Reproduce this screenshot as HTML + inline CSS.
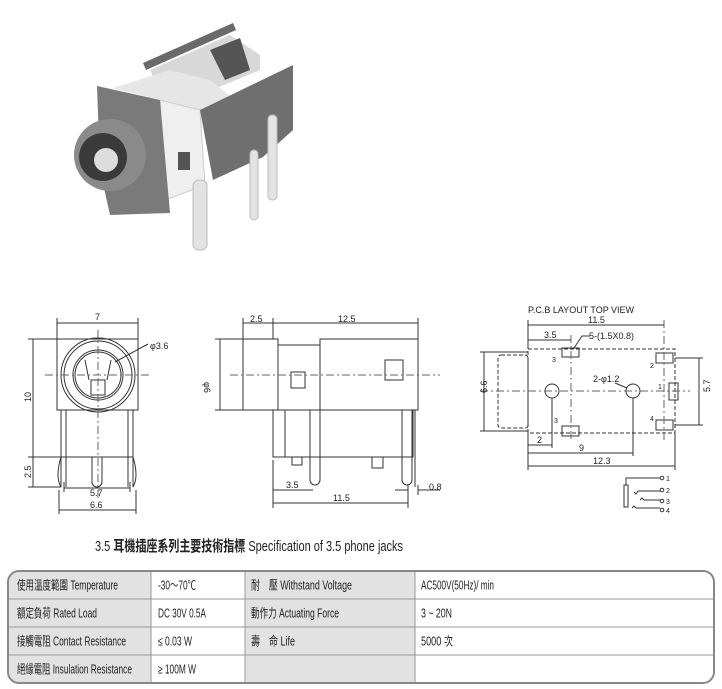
<!DOCTYPE html>
<html><head><meta charset="utf-8"><style>
body{margin:0;background:#fff;}
svg{display:block}
text{font-family:"Liberation Sans","Noto Sans CJK TC",sans-serif;fill:#222}
</style></head><body>
<svg width="722" height="689" viewBox="0 0 722 689" xmlns="http://www.w3.org/2000/svg">
<!-- Photo -->
<g>
<polygon points="143,63 233,23 236,30 146,70" fill="#6a6a6a"/>
<polygon points="150,70 230,35 260,55 260,70 200,95 160,90" fill="#d8d8d8"/>
<polygon points="210,50 240,38 250,70 225,80" fill="#555"/>
<polygon points="113,88 170,70 210,80 235,100 200,112 170,115 160,100" fill="#e6e6e6"/>
<polygon points="160,100 200,110 205,185 165,200" fill="#efefef" stroke="#ccc"/>
<polygon points="200,110 293,65 293,130 263,157 213,180" fill="#6f6f6f"/>
<polygon points="97,86 160,100 170,213 110,215 100,170" fill="#7a7a7a"/>
<circle cx="110" cy="155" r="36" fill="#8a8a8a"/>
<circle cx="103" cy="157" r="24" fill="#3a3a3a"/>
<circle cx="106" cy="160" r="12" fill="#ddd"/>
<rect x="178" y="152" width="12" height="18" fill="#555"/>
<rect x="193" y="180" width="14" height="70" rx="6" fill="#e3e3e3" stroke="#bbb"/>
<rect x="250" y="150" width="8" height="70" rx="4" fill="#e3e3e3" stroke="#bbb"/>
<rect x="268" y="115" width="9" height="85" rx="4" fill="#e3e3e3" stroke="#bbb"/>
</g>
<g stroke="#333" fill="none" stroke-width="1">
<!-- Front view -->
<rect x="57" y="339" width="81" height="71"/>
<rect x="61" y="410" width="72" height="47"/>
<circle cx="98" cy="375" r="37"/><circle cx="98" cy="375" r="34"/>
<circle cx="98" cy="375" r="25"/><circle cx="98" cy="375" r="23"/>
<rect x="91" y="380" width="14" height="15"/>
<path d="M85 360 L89 380 M111 360 L107 380"/>
<path d="M61 410 V487 M66 410 V487 M133 410 V487 M128 410 V487"/>
<path d="M61 457 q-6 20 0 30 M133 457 q6 20 0 30"/>
<path d="M92 457 V482 a5 5 0 0 0 10 0 V457"/>
<path d="M57 323 H138 M57 318 V339 M138 318 V339 M28 339 H57 M28 457 H61 M28 487 H61 M33 339 V487 M64 488 H130 M59 510 H136 M64 482 V492 M130 482 V492 M59 490 V514 M136 490 V514 M115 362 L148 344"/>
<path d="M98 330 V500 M45 375 H152" stroke-dasharray="8 3 2 3" stroke="#666"/>
<!-- Side view -->
<rect x="243" y="339" width="35" height="71"/>
<rect x="278" y="345" width="42" height="65"/>
<rect x="320" y="339" width="98" height="71"/>
<rect x="291" y="372" width="14" height="16"/>
<rect x="385" y="360" width="18" height="20"/>
<path d="M273 410 V457 H285 M285 410 V457 M285 457 H413 V410 M320 410 V457 M292 457 V465 H302 V457 M372 457 V468 H383 V457"/>
<path d="M310 410 V480 a5 5 0 0 0 10 0 V410"/>
<path d="M402 410 V480 a5 5 0 0 0 10 0 V410 M415 410 V487"/>
<path d="M243 323 H418 M243 318 V339 M273 318 V339 M418 318 V339 M215 339 H243 M215 410 H243 M220 339 V410 M273 490 H313 M273 503 H408 M273 460 V508 M408 485 V508 M418 485 V495 M395 490 H408 M418 490 H440"/>
<path d="M230 375 H440" stroke-dasharray="8 3 2 3" stroke="#666"/>
<!-- PCB -->
<rect x="528" y="349" width="147" height="84" stroke-dasharray="4 2"/>
<rect x="498" y="355" width="30" height="73" rx="3" stroke-dasharray="4 2"/>
<circle cx="552" cy="391" r="7"/><circle cx="633" cy="391" r="7"/>
<rect x="562" y="348" width="17" height="9"/><rect x="562" y="426" width="17" height="10"/>
<rect x="656" y="353" width="17" height="10"/><rect x="656" y="420" width="17" height="10"/>
<rect x="669" y="383" width="9" height="17"/>
<path d="M480 391 H690 M571 335 V440 M664 320 V440" stroke-dasharray="8 3 2 3" stroke="#666"/>
<path d="M528 325 H664 M528 320 V349 M528 340 H571 M480 352 H528 M480 431 H528 M484 352 V431 M675 358 H703 M675 425 H703 M699 358 V425 M528 445 H552 M552 398 V448 M528 453 H633 M633 398 V456 M528 466 H675 M528 433 V470 M675 433 V470 M574 348 L582 336 H590 M615 383 L627 388"/>
<!-- schematic -->
<rect x="624" y="485" width="4" height="22"/>
<path d="M626 485 V478 H660 M634 492 l2 2 l2 -3 H660 M640 500 l2 -2 l2 2 H660 M632 508 l2 -2 l2 2 H660"/>
<circle cx="662" cy="478" r="1.8"/><circle cx="662" cy="490" r="1.8"/><circle cx="662" cy="501" r="1.8"/><circle cx="662" cy="510" r="1.8"/>
</g>
<g font-size="9">
<text x="95" y="320">7</text><text x="150" y="349">φ3.6</text>
<text x="31" y="402" transform="rotate(-90 31 402)">10</text>
<text x="31" y="478" transform="rotate(-90 31 478)">2.5</text>
<text x="90" y="496">5.7</text><text x="90" y="508">6.6</text>
<text x="250" y="322">2.5</text><text x="338" y="322">12.5</text>
<text x="218" y="380" transform="rotate(90 210 374)">φ6</text>
<text x="286" y="488">3.5</text><text x="333" y="501">11.5</text><text x="429" y="490">0.8</text>
<text x="528" y="313">P.C.B LAYOUT    TOP VIEW</text>
<text x="588" y="323">11.5</text><text x="544" y="338">3.5</text><text x="589" y="339">5-(1.5X0.8)</text>
<text x="482" y="398" transform="rotate(-90 482 393)">6.6</text>
<text x="704" y="398" transform="rotate(-90 704 392)">5.7</text>
<text x="593" y="382">2-φ1.2</text><text x="537" y="443">2</text><text x="579" y="451">9</text><text x="593" y="464">12.3</text>
</g>
<g font-size="7"><text x="552" y="362">3</text><text x="554" y="423">3</text><text x="650" y="368">2</text><text x="658" y="389">1</text><text x="650" y="421">4</text>
<text x="666" y="481">1</text><text x="666" y="493">2</text><text x="666" y="504">3</text><text x="666" y="513">4</text></g>
<!-- Title -->
<text x="95" y="551" font-size="15" fill="#333" textLength="308" lengthAdjust="spacingAndGlyphs">3.5 <tspan font-weight="bold">耳機插座系列主要技術指標</tspan> Specification of 3.5 phone jacks</text>
<!-- Table -->
<defs><clipPath id="c"><rect x="8" y="571" width="706" height="112" rx="11"/></clipPath></defs>
<g clip-path="url(#c)">
<rect x="8" y="571" width="706" height="112" fill="#fff"/>
<rect x="8" y="571" width="143" height="112" fill="#e2e2e2"/>
<rect x="245" y="571" width="170" height="112" fill="#e2e2e2"/>
<path d="M8 599 H714 M8 627 H714 M8 655 H714 M151 571 V683 M245 571 V683 M415 571 V683" stroke="#999" stroke-width="1"/>
</g>
<rect x="8" y="571" width="706" height="112" rx="11" fill="none" stroke="#888" stroke-width="2"/>
<g font-size="12.5" fill="#222">
<text x="17" y="589.5" textLength="101" lengthAdjust="spacingAndGlyphs">使用溫度範圍 Temperature</text>
<text x="158" y="589.5" textLength="38" lengthAdjust="spacingAndGlyphs">-30～70℃</text>
<text x="251" y="589.5" textLength="101" lengthAdjust="spacingAndGlyphs">耐　壓 Withstand Voltage</text>
<text x="421" y="589.5" textLength="73" lengthAdjust="spacingAndGlyphs">AC500V(50Hz)/ min</text>
<text x="17" y="617.5" textLength="80" lengthAdjust="spacingAndGlyphs">額定負荷  Rated Load</text>
<text x="158" y="617.5" textLength="48" lengthAdjust="spacingAndGlyphs">DC  30V  0.5A</text>
<text x="251" y="617.5" textLength="88" lengthAdjust="spacingAndGlyphs">動作力 Actuating Force</text>
<text x="421" y="617.5" textLength="31" lengthAdjust="spacingAndGlyphs">3 ~ 20N</text>
<text x="17" y="645.5" textLength="109" lengthAdjust="spacingAndGlyphs">接觸電阻  Contact Resistance</text>
<text x="158" y="645.5" textLength="34" lengthAdjust="spacingAndGlyphs">≤ 0.03 W</text>
<text x="251" y="645.5" textLength="44" lengthAdjust="spacingAndGlyphs">壽　命 Life</text>
<text x="421" y="645.5" textLength="32" lengthAdjust="spacingAndGlyphs">5000 次</text>
<text x="17" y="673.5" textLength="115" lengthAdjust="spacingAndGlyphs">絕緣電阻  Insulation Resistance</text>
<text x="158" y="673.5" textLength="38" lengthAdjust="spacingAndGlyphs">≥ 100M W</text>
</g>
</svg>
</body></html>
